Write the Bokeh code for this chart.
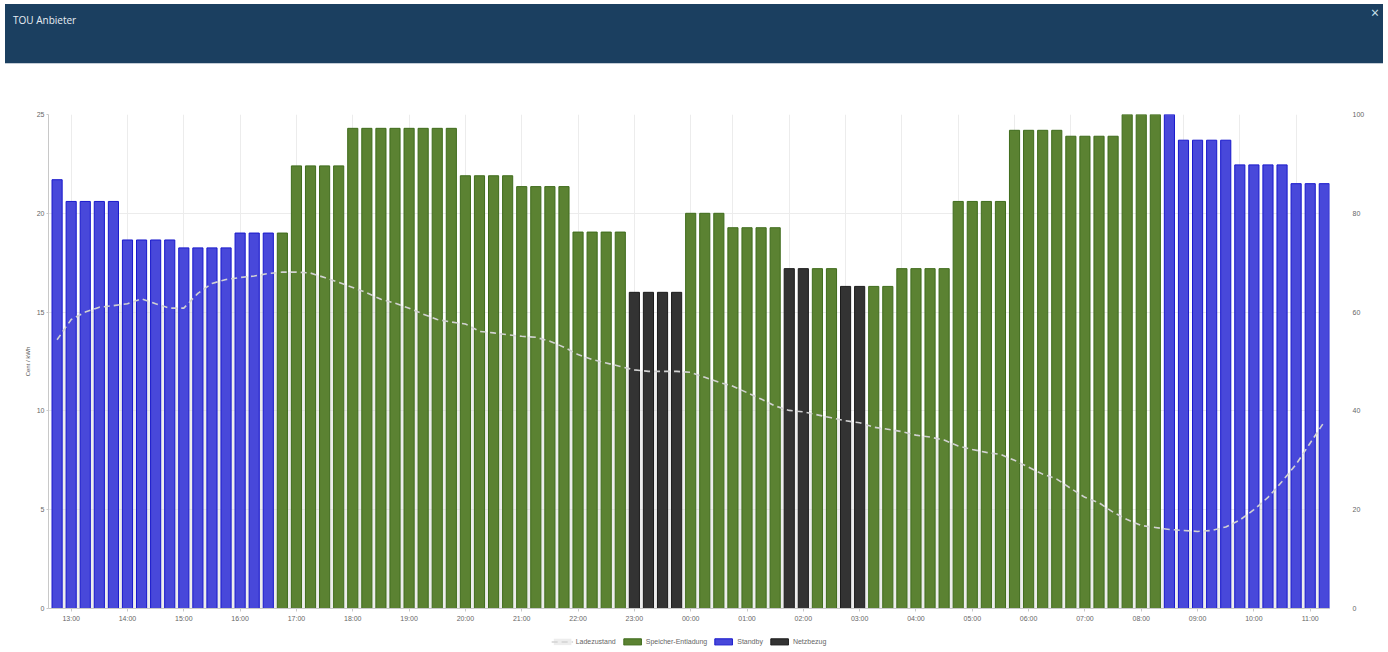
from bokeh.plotting import figure
from bokeh.models import (Range1d, LinearAxis, FixedTicker, Legend, LegendItem,
                          ColumnDataSource, Div)
from bokeh.layouts import column
from bokeh.embed import file_html
from bokeh.resources import INLINE

# ---------------- data ----------------
# price per 15-minute slot (Cent / kWh), first slot 12:45
prices = [21.7,
          20.6, 20.6, 20.6, 20.6,
          18.65, 18.65, 18.65, 18.65,
          18.25, 18.25, 18.25, 18.25,
          19.0, 19.0, 19.0, 19.0,
          22.4, 22.4, 22.4, 22.4,
          24.3, 24.3, 24.3, 24.3, 24.3, 24.3, 24.3, 24.3,
          21.9, 21.9, 21.9, 21.9,
          21.35, 21.35, 21.35, 21.35,
          19.05, 19.05, 19.05, 19.05,
          16.0, 16.0, 16.0, 16.0,
          20.0, 20.0, 20.0,
          19.27, 19.27, 19.27, 19.27,
          17.2, 17.2, 17.2, 17.2,
          16.3, 16.3, 16.3, 16.3,
          17.2, 17.2, 17.2, 17.2,
          20.6, 20.6, 20.6, 20.6,
          24.2, 24.2, 24.2, 24.2,
          23.9, 23.9, 23.9, 23.9,
          25.0, 25.0, 25.0, 25.0,
          23.7, 23.7, 23.7, 23.7,
          22.45, 22.45, 22.45, 22.45,
          21.5, 21.5, 21.5]

# mode per slot: S = Standby, E = Speicher-Entladung, N = Netzbezug
modes = ["S",
         "S", "S", "S", "S",
         "S", "S", "S", "S",
         "S", "S", "S", "S",
         "S", "S", "S", "E",
         "E", "E", "E", "E",
         "E", "E", "E", "E", "E", "E", "E", "E",
         "E", "E", "E", "E",
         "E", "E", "E", "E",
         "E", "E", "E", "E",
         "N", "N", "N", "N",
         "E", "E", "E",
         "E", "E", "E", "E",
         "N", "N", "E", "E",
         "N", "N", "E", "E",
         "E", "E", "E", "E",
         "E", "E", "E", "E",
         "E", "E", "E", "E",
         "E", "E", "E", "E",
         "E", "E", "E", "S",
         "S", "S", "S", "S",
         "S", "S", "S", "S",
         "S", "S", "S"]

# state of charge (%) per slot
soc = [54.4, 58.5, 60.0, 61.0, 61.3, 61.7, 62.7, 61.7, 60.8, 60.8,
       63.8, 65.8, 66.6, 67.0, 67.3, 67.8, 68.1, 68.1, 67.9, 67.0,
       66.0, 65.0, 63.9, 62.6, 61.8, 60.8, 59.6, 58.5, 58.0, 57.6,
       56.1, 55.8, 55.4, 55.1, 54.9, 54.1, 52.9, 51.4, 50.4, 49.7,
       49.0, 48.3, 48.0, 48.0, 48.0, 47.8, 46.8, 45.8, 45.0, 43.7,
       42.4, 41.0, 40.1, 39.8, 39.2, 38.6, 38.0, 37.6, 36.7, 36.3,
       35.8, 35.1, 34.7, 34.1, 32.9, 32.2, 31.6, 31.2, 30.0, 28.6,
       27.2, 26.2, 24.3, 22.5, 21.4, 19.5, 18.0, 16.8, 16.4, 16.0,
       15.8, 15.6, 15.8, 16.5, 17.9, 20.0, 22.5, 25.7, 29.2, 33.5, 37.8]

tick_labels = ["13:00", "14:00", "15:00", "16:00", "17:00", "18:00", "19:00",
               "20:00", "21:00", "22:00", "23:00", "00:00", "01:00", "02:00",
               "03:00", "04:00", "05:00", "06:00", "07:00", "08:00", "09:00",
               "10:00", "11:00"]

mode_names = {"E": "Speicher-Entladung", "S": "Standby", "N": "Netzbezug"}
mode_fill = {"E": "#5b8232", "S": "#4848da", "N": "#333333"}
mode_line = {"E": "#3f6c1c", "S": "#1818cc", "N": "#1c1c1c"}

slots = list(range(len(prices)))
label_slots = [1 + 4 * k for k in range(len(tick_labels))]
grid_slots = [s if s <= 45 else s - 1 for s in label_slots]

font = "Liberation Sans"
grid_col = "#ececec"
area_style = dict(fill_color="#d6d6d6", fill_alpha=0.45)
line_style = dict(line_color="#d2d2d2", line_width=1.6, line_dash="6 4")

# ---------------- header ----------------
header = Div(
    text=('<div style="position:relative;width:1378px;height:60px;background:#1b3f60;'
          'border-bottom:1px solid #c3ccd6;font-family:\'Open Sans\',sans-serif;">'
          '<span style="position:absolute;left:8px;top:9px;color:#e8eef4;font-size:10px;">'
          'TOU Anbieter</span>'
          '<span style="position:absolute;right:4px;top:2px;color:#cfe6f2;font-size:14px;line-height:14px;">'
          '\u00d7</span></div>'),
    width=1378, height=61, margin=(4, 0, 0, 5))

# ---------------- main figure ----------------
p = figure(width=1388, height=565, output_backend="svg", toolbar_location=None,
           x_range=Range1d(-0.61, 90.37), y_range=Range1d(0, 25),
           min_border_left=48, min_border_right=59, min_border_top=49,
           min_border_bottom=22, outline_line_color=None)
p.extra_y_ranges = {"soc": Range1d(0, 100)}

# state of charge area (behind bars)
soc_src = ColumnDataSource(dict(x=slots, y=soc, zero=[0] * len(soc)))
p.varea(x="x", y1="zero", y2="y", source=soc_src, y_range_name="soc", **area_style)

for m in ["E", "S", "N"]:
    xs = [i for i in slots if modes[i] == m]
    tops = [prices[i] for i in slots if modes[i] == m]
    src = ColumnDataSource(dict(x=xs, top=tops))
    p.vbar(x="x", top="top", width=0.72, source=src,
           fill_color=mode_fill[m], line_color=mode_line[m], line_width=1)

p.line(x="x", y="y", source=soc_src, y_range_name="soc", **line_style)

# axes
p.xaxis.ticker = FixedTicker(ticks=label_slots)
p.xaxis.major_label_overrides = {s: t for s, t in zip(label_slots, tick_labels)}
p.xaxis.major_label_text_font = font
p.xaxis.major_label_text_font_size = "7px"
p.xaxis.major_label_text_color = "#666666"
p.xaxis.axis_line_color = "#c8c8c8"
p.xaxis.major_tick_line_color = "#c8c8c8"
p.xaxis.major_tick_out = 3
p.xaxis.major_tick_in = 0
p.xaxis.minor_tick_line_color = None
p.xaxis.major_label_standoff = 3

p.yaxis.ticker = FixedTicker(ticks=[0, 5, 10, 15, 20, 25])
p.yaxis.axis_label = "Cent / kWh"
p.yaxis.axis_label_text_font = font
p.yaxis.axis_label_text_font_size = "6px"
p.yaxis.axis_label_text_font_style = "normal"
p.yaxis.axis_label_text_color = "#555555"
p.yaxis.axis_label_standoff = 3
p.yaxis.major_label_text_font = font
p.yaxis.major_label_text_font_size = "7px"
p.yaxis.major_label_text_color = "#666666"
p.yaxis.axis_line_color = "#c8c8c8"
p.yaxis.major_tick_line_color = "#c8c8c8"
p.yaxis.major_tick_out = 2
p.yaxis.major_tick_in = 0
p.yaxis.minor_tick_line_color = None
p.yaxis.major_label_standoff = 2

right = LinearAxis(y_range_name="soc", ticker=FixedTicker(ticks=[0, 20, 40, 60, 80, 100]))
right.major_label_text_font = font
right.major_label_text_font_size = "7px"
right.major_label_text_color = "#666666"
right.axis_line_color = None
right.major_tick_line_color = None
right.minor_tick_line_color = None
right.major_label_standoff = 17
p.add_layout(right, "right")

p.xgrid.ticker = FixedTicker(ticks=grid_slots)
p.xgrid.grid_line_color = grid_col
p.ygrid.grid_line_color = grid_col

# ---------------- legend strip ----------------
# legend-only strip: its renderers hold a single point placed outside the view,
# so only the legend swatches show
lg = figure(width=1388, height=22, output_backend="svg", toolbar_location=None,
            x_range=Range1d(0, 1), y_range=Range1d(0, 1),
            x_axis_location=None, y_axis_location=None,
            min_border=0, outline_line_color=None)
lg.grid.visible = False
off = ColumnDataSource(dict(x=[-5, -4], y=[-5, -5], z=[-6, -6]))
r_area = lg.varea(x="x", y1="z", y2="y", source=off, **area_style)
r_line = lg.line(x="x", y="y", source=off, **line_style)
leg_r = {}
for m in ["E", "S", "N"]:
    leg_r[m] = lg.vbar(x="x", top="y", bottom="z", width=0.5, source=off,
                       fill_color=mode_fill[m], line_color=mode_line[m], line_width=1)

legend = Legend(items=[
    LegendItem(label="Ladezustand", renderers=[r_area, r_line]),
    LegendItem(label=mode_names["E"], renderers=[leg_r["E"]]),
    LegendItem(label=mode_names["S"], renderers=[leg_r["S"]]),
    LegendItem(label=mode_names["N"], renderers=[leg_r["N"]]),
], orientation="horizontal", location="center",
    label_text_font=font, label_text_font_size="7px", label_text_color="#666666",
    glyph_width=22, glyph_height=8, label_standoff=3, spacing=5, padding=0,
    margin=0, border_line_color=None, background_fill_alpha=0,
    label_height=9)
lg.add_layout(legend, "center")

layout = column(header, p, lg, spacing=0)
open("out.html", "w").write(file_html(layout, INLINE))
